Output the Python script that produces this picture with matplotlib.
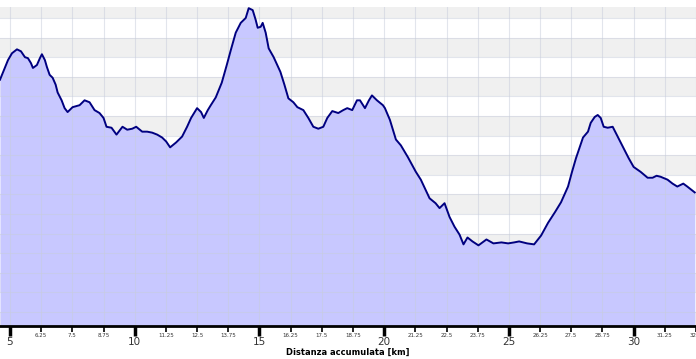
import numpy as np
import matplotlib
matplotlib.use("Agg")
import matplotlib.pyplot as plt

dist = [4.60, 4.76, 4.92, 5.08, 5.28, 5.44, 5.60, 5.72, 5.84, 5.92, 6.08, 6.20, 6.28, 6.40,
        6.48, 6.59, 6.71, 6.83, 6.91, 7.07, 7.19, 7.31, 7.51, 7.79, 7.99, 8.19, 8.39, 8.59,
        8.75, 8.87, 9.07, 9.27, 9.51, 9.70, 9.90, 10.06, 10.30, 10.50, 10.70, 10.90, 11.10,
        11.26, 11.42, 11.66, 11.90, 12.10, 12.26, 12.50, 12.66, 12.77, 12.93, 13.05, 13.25,
        13.49, 13.69, 13.85, 14.05, 14.25, 14.45, 14.57, 14.73, 14.85, 14.93, 15.05, 15.13,
        15.25, 15.37, 15.57, 15.84, 16.00, 16.16, 16.36, 16.52, 16.76, 16.96, 17.16, 17.36,
        17.56, 17.72, 17.92, 18.16, 18.36, 18.52, 18.72, 18.91, 19.03, 19.23, 19.39, 19.51,
        19.71, 19.95, 20.03, 20.23, 20.47, 20.67, 20.95, 21.27, 21.47, 21.67, 21.82, 22.06,
        22.22, 22.42, 22.62, 22.82, 23.02, 23.18, 23.34, 23.54, 23.78, 24.10, 24.38, 24.70,
        24.97, 25.21, 25.41, 25.73, 26.01, 26.29, 26.57, 26.85, 27.09, 27.37, 27.53, 27.69,
        27.85, 27.97, 28.17, 28.28, 28.44, 28.56, 28.68, 28.80, 28.96, 29.16, 29.36, 29.60,
        29.80, 30.00, 30.28, 30.56, 30.76, 30.92, 31.08, 31.36, 31.56, 31.75, 31.99, 32.15,
        32.45]
quota = [437, 447, 457, 464, 468, 466, 460, 459, 454, 449, 452, 459, 463, 457,
         450, 442, 439, 432, 424, 416, 408, 404, 409, 411, 416, 414, 406, 403,
         398, 389, 388, 381, 389, 386, 387, 389, 384, 384, 383, 381, 378,
         374, 368, 373, 379, 389, 398, 408, 404, 398, 406, 411, 419,
         434, 452, 467, 485, 495, 500, 510, 508, 498, 490, 491, 495,
         485, 469, 460, 445, 432, 418, 414, 409, 406, 398, 389, 387,
         389, 398, 405, 403, 406, 408, 406, 416, 416, 408, 416, 421,
         416, 411, 408, 396, 376, 370, 358, 343, 335, 324, 316, 311,
         306, 311, 297, 287, 279, 269, 276, 272, 268, 274, 270, 271,
         270, 271, 272, 270, 269, 278, 291, 302, 312, 328, 343, 357,
         369, 378, 384, 393, 399, 401, 398, 389, 388, 389, 379, 367,
         357, 348, 343, 337, 337, 339, 338, 335, 331, 328, 331, 328,
         322]

major_ticks = [5, 10, 15, 20, 25, 30]
minor_ticks = [6.25, 7.5, 8.75, 11.25, 12.5, 13.75, 16.25, 17.5, 18.75, 21.25, 22.5,
               23.75, 26.25, 27.5, 28.75, 31.25, 32.5]
band_edges = [180, 220, 260, 300, 340, 380, 420, 460, 500]

fig = plt.figure(figsize=(6.96, 3.59), dpi=100)
ax = fig.add_axes([0, 0.0919, 1, 0.8886])

for b in band_edges:
    ax.axhspan(b, b + 20, color='#f0f0f0', lw=0, zorder=0)

ax.fill_between(dist, quota, 150, color='#c8c8ff', lw=0, zorder=1)
ax.plot(dist, quota, color='#000080', lw=1.4, zorder=4)

# griglia
for x in np.arange(3.75, 33, 1.25):
    ax.axvline(x, color=(0.78, 0.8, 0.86), alpha=0.5, lw=0.8, zorder=2)
for y in range(180, 521, 20):
    ax.axhline(y, color=(0.78, 0.8, 0.86), alpha=0.5, lw=0.8, zorder=2)

ax.set_xlim(4.60, 32.35)
ax.set_ylim(185.7, 511.2)

for s in ['top', 'left', 'right']:
    ax.spines[s].set_visible(False)
ax.spines['bottom'].set_linewidth(2)
ax.spines['bottom'].set_zorder(5)

ax.set_yticks([])
ax.set_xticks(major_ticks)
ax.set_xticklabels([str(t) for t in major_ticks], fontsize=7.5, color='#333333')
ax.set_xticks(minor_ticks, minor=True)
ax.set_xticklabels(['%g' % t for t in minor_ticks], minor=True, fontsize=4, color='#333333')
ax.tick_params(axis='x', which='major', length=7, width=2.5, pad=1)
ax.tick_params(axis='x', which='minor', length=4, width=1.2, pad=1)

ax.set_xlabel('Distanza accumulata [km]', fontsize=6, fontweight='bold', labelpad=0.5)

fig.savefig('out.png', dpi=100)
